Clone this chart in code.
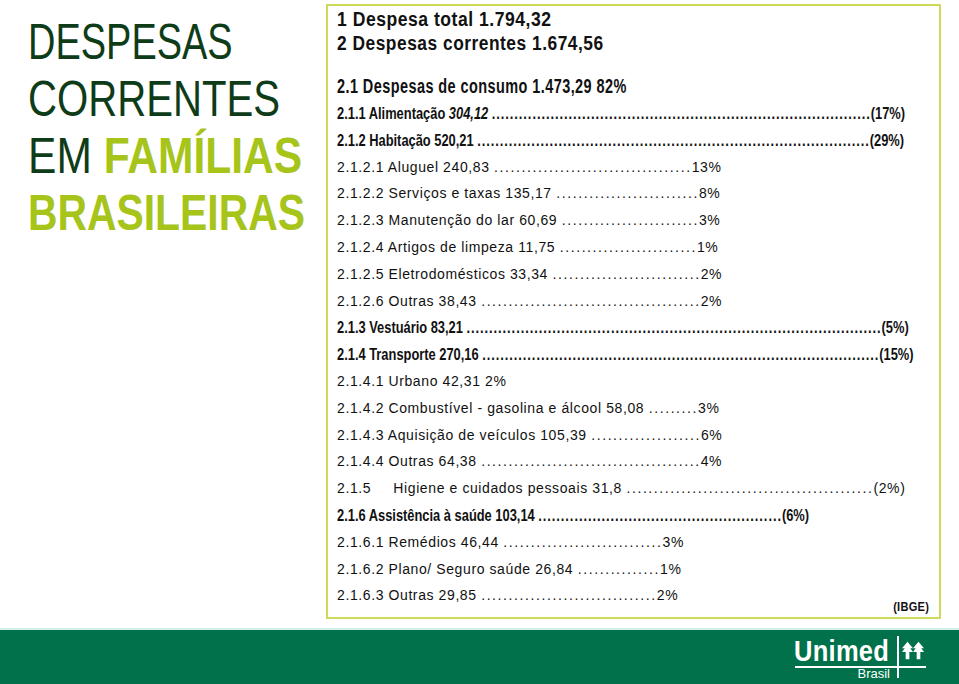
<!DOCTYPE html>
<html lang="pt-BR">
<head>
<meta charset="utf-8">
<script src="https://cdn.jsdelivr.net/npm/chart.js@4"></script>
<style>
  html, body { margin: 0; padding: 0; background: #fff; }
  body { width: 959px; height: 684px; position: relative; overflow: hidden; font-family: "Liberation Sans", Arial, sans-serif; }
  #title { position: absolute; left: 28px; top: 14px; font-size: 50px; line-height: 57px; color: #0f3c18; }
  #title div { white-space: nowrap; transform-origin: 0 50%; width: max-content; }
  #title .lime { color: #a6c41a; font-weight: bold; }
  #panel { position: absolute; left: 326px; top: 4px; width: 611px; height: 611px; border: 2px solid #cfd95a; }
  .line { position: absolute; left: 9px; white-space: nowrap; color: #111; transform-origin: 0 50%; width: max-content; }
  .line.top { font-weight: bold; font-size: 20px; letter-spacing: 0.6px; }
  .line.bold { font-weight: bold; font-size: 16.5px; letter-spacing: 0; }
  .line.bold .dots { letter-spacing: 1.2px; }
  .line.sub { font-size: 14px; letter-spacing: 0.6px; }
  .line.sub .dots { letter-spacing: 1.6px; }
  .line i { font-style: italic; }
  #ibge { position: absolute; right: 10px; bottom: 3px; font-weight: bold; font-size: 12px; letter-spacing: 0.3px; color: #111; transform: scaleX(0.92); transform-origin: 100% 50%; }
  #band { position: absolute; left: 0; top: 628px; width: 959px; height: 56px; background: #00714a; border-top: 2px solid #d3efeb; box-sizing: border-box; }
  #logo { position: absolute; left: 794px; top: 634px; width: 140px; height: 46px; color: #fff; }
  #logo .name { position: absolute; left: 0; top: 1px; font-weight: bold; font-size: 29px; letter-spacing: 0.3px; transform: scaleX(0.88); transform-origin: 0 0; }
  #logo .hr { position: absolute; left: 1px; top: 32px; width: 131px; height: 1.5px; background: #fff; }
  #logo .vr { position: absolute; left: 103px; top: 2px; width: 1.5px; height: 42px; background: #fff; }
  #logo .sub { position: absolute; right: 44px; top: 32px; font-size: 13px; }
  #logo svg { position: absolute; left: 108px; top: 7px; }
</style>
</head>
<body>
<div id="title">
  <div>DESPESAS</div>
  <div>CORRENTES</div>
  <div>EM <span class="lime">FAMÍLIAS</span></div>
  <div class="lime">BRASILEIRAS</div>
</div>

<div id="panel">
  <div id="list"></div>
  <div id="ibge">(IBGE)</div>
</div>

<div id="band"></div>
<div id="logo">
  <div class="name">Unimed</div>
  <div class="hr"></div>
  <div class="vr"></div>
  <div class="sub">Brasil</div>
  <svg width="22" height="20" viewBox="0 0 24 20">
    <path d="M6 0 L12 7 L9 7 L12 11 L8 11 L8 19 L4 19 L4 11 L0 11 L3 7 L0 7 Z" fill="#fff"/>
    <path d="M18 0 L24 7 L21 7 L24 11 L20 11 L20 19 L16 19 L16 11 L12 11 L15 7 L12 7 Z" fill="#fff"/>
  </svg>
</div>

<script>
// totals
const totalCodes = ["1", "2", "2.1"];
const totalLabels = ["Despesa total", "Despesas correntes", "Despesas de consumo"];
const totalValues = [1794.32, 1674.56, 1473.29];
const totalShares = [null, null, 82];

// breakdown of consumption spending
const codes = ["2.1.1", "2.1.2", "2.1.2.1", "2.1.2.2", "2.1.2.3", "2.1.2.4", "2.1.2.5", "2.1.2.6",
  "2.1.3", "2.1.4", "2.1.4.1", "2.1.4.2", "2.1.4.3", "2.1.4.4", "2.1.5", "2.1.6", "2.1.6.1", "2.1.6.2", "2.1.6.3"];
const items = ["Alimentação", "Habitação", "Aluguel", "Serviços e taxas", "Manutenção do lar", "Artigos de limpeza",
  "Eletrodomésticos", "Outras", "Vestuário", "Transporte", "Urbano", "Combustível - gasolina e álcool",
  "Aquisição de veículos", "Outras", "Higiene e cuidados pessoais", "Assistência à saúde", "Remédios",
  "Plano/ Seguro saúde", "Outras"];
const values = [304.12, 520.21, 240.83, 135.17, 60.69, 11.75, 33.34, 38.43, 83.21, 270.16, 42.31, 58.08,
  105.39, 64.38, 31.8, 103.14, 46.44, 26.84, 29.85];
const shares = [17, 29, 13, 8, 3, 1, 2, 2, 5, 15, 2, 3, 6, 4, 2, 6, 3, 1, 2];

// ---------- layout only ----------
const titleWidths = [205, 252, 274, 277];
const topY = [2, 26, 69];
const topWidths = [215, 267, 290];
const rowEnds = [568, 569, 386, 386, 386, 386, 386, 386, 575, 581, 0, 386, 387, 386, 569, 475, 349, 346, 345];
const regularRows = new Set(["2.1.5"]);
const italicValue = new Set(["2.1.1"]);
const BOLD_SCALE = 0.78;

const fmt = v => v.toLocaleString("pt-BR", { maximumFractionDigits: 2 });
const list = document.getElementById("list");

// squeeze a line horizontally to the width it has in the slide
function fitWidth(el, target) {
  el.style.transform = `scaleX(${target / el.offsetWidth})`;
}

document.querySelectorAll("#title div").forEach((el, i) => fitWidth(el, titleWidths[i]));

totalLabels.forEach((lab, i) => {
  const d = document.createElement("div");
  d.className = "line top";
  d.style.top = topY[i] + "px";
  d.textContent = `${totalCodes[i]} ${lab} ${fmt(totalValues[i])}` + (totalShares[i] ? ` ${totalShares[i]}%` : "");
  list.appendChild(d);
  fitWidth(d, topWidths[i]);
});

codes.forEach((code, i) => {
  const major = code.split(".").length === 3;
  const bold = major && !regularRows.has(code);
  const scale = bold ? BOLD_SCALE : 1;
  const d = document.createElement("div");
  d.className = "line " + (bold ? "bold" : "sub");
  d.style.top = (99 + i * 26.8 - (bold ? 1 : 0)) + "px";
  d.style.transform = `scaleX(${scale})`;
  const pct = major ? `(${shares[i]}%)` : `${shares[i]}%`;
  const sep = code === "2.1.5" ? "\u2003\u2002" : " ";
  const val = italicValue.has(code) ? `<i>${fmt(values[i])}</i>` : fmt(values[i]);
  list.appendChild(d);
  if (rowEnds[i] === 0) {
    d.innerHTML = `${code}${sep}${items[i]} ${val} ${pct}`;
    return;
  }
  d.innerHTML = `${code}${sep}${items[i]} ${val} <span class="dots"></span>${pct}`;
  // add leader dots until the row reaches its right end
  const dots = d.querySelector(".dots");
  const target = rowEnds[i] / scale;
  let n = 0;
  while (n < 300) {
    dots.textContent = ".".repeat(n + 1);
    if (d.offsetWidth > target) { dots.textContent = ".".repeat(n); break; }
    n++;
  }
});
</script>
</body>
</html>
